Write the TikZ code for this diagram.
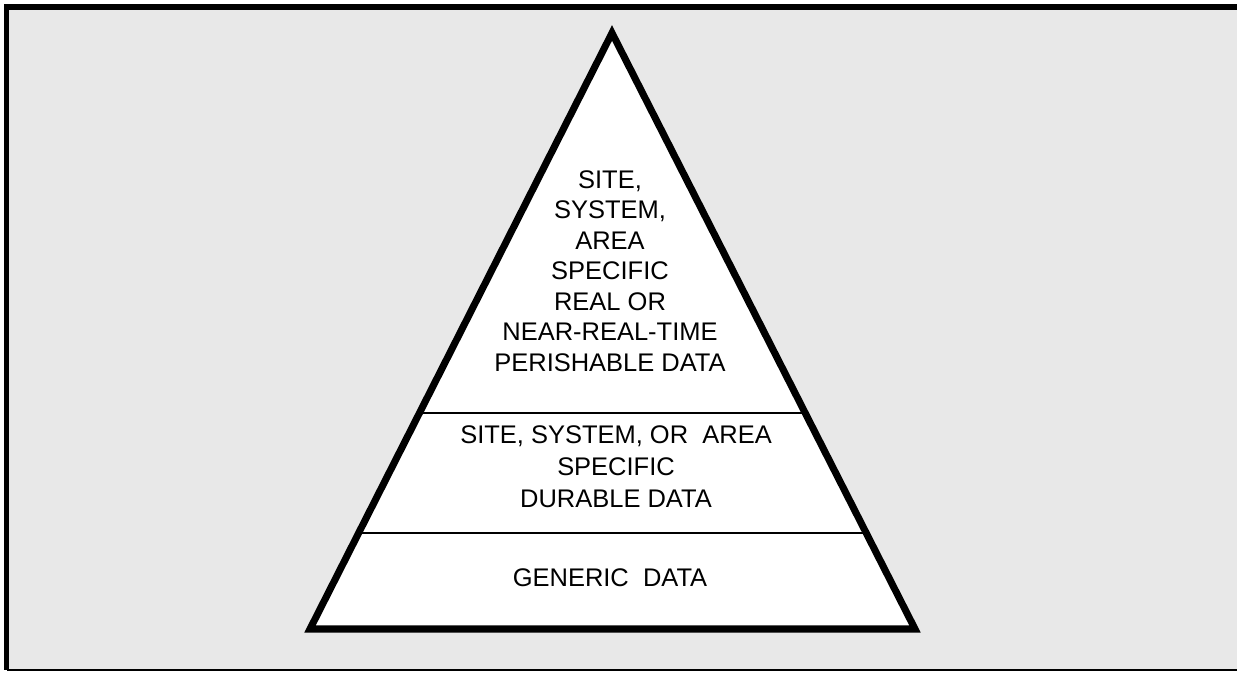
\documentclass[tikz,border=0pt]{standalone}
\usepackage{fontspec}
\setmainfont{Liberation Sans}
\usetikzlibrary{calc, positioning}

\tikzset{
  pyramid/.style={line width=4pt, line join=miter},
  layerline/.style={line width=0.9pt},
  layertext/.style={align=center, inner sep=0pt, font=\fontsize{14.5}{18.2}\selectfont},
}

\begin{document}
\begin{tikzpicture}
\useasboundingbox (0,0) rectangle (24.74,13.46);

\fill[black!9] (0.13,0.06) rectangle (24.74,13.31);
\draw[line width=3.4pt] (24.74,13.31) -- (0.13,13.31) -- (0.13,0.06);
\draw[line width=1.1pt] (0.13,0.06) -- (24.74,0.06);

\coordinate (apex) at (12.24,12.80);
\coordinate (bl) at (6.20,0.88);
\coordinate (br) at (18.30,0.88);

\filldraw[fill=white, pyramid] (bl) -- (apex) -- (br) -- cycle;

\draw[layerline] ($(bl)!0.3624!(apex)$) -- ($(br)!0.3624!(apex)$);
\draw[layerline] ($(bl)!0.1611!(apex)$) -- ($(br)!0.1611!(apex)$);

\node[layertext, font=\fontsize{14.5}{17.4}\selectfont] (perishable) at (12.2,8.04) {SITE,\\SYSTEM,\\AREA\\SPECIFIC\\REAL OR\\NEAR-REAL-TIME\\PERISHABLE DATA};
\node[layertext] (durable) at (12.32,4.12) {SITE, SYSTEM, OR~ AREA\\SPECIFIC\\DURABLE DATA};
\node[layertext] (generic) at (12.2,1.90) {GENERIC~ DATA};

\end{tikzpicture}
\end{document}
